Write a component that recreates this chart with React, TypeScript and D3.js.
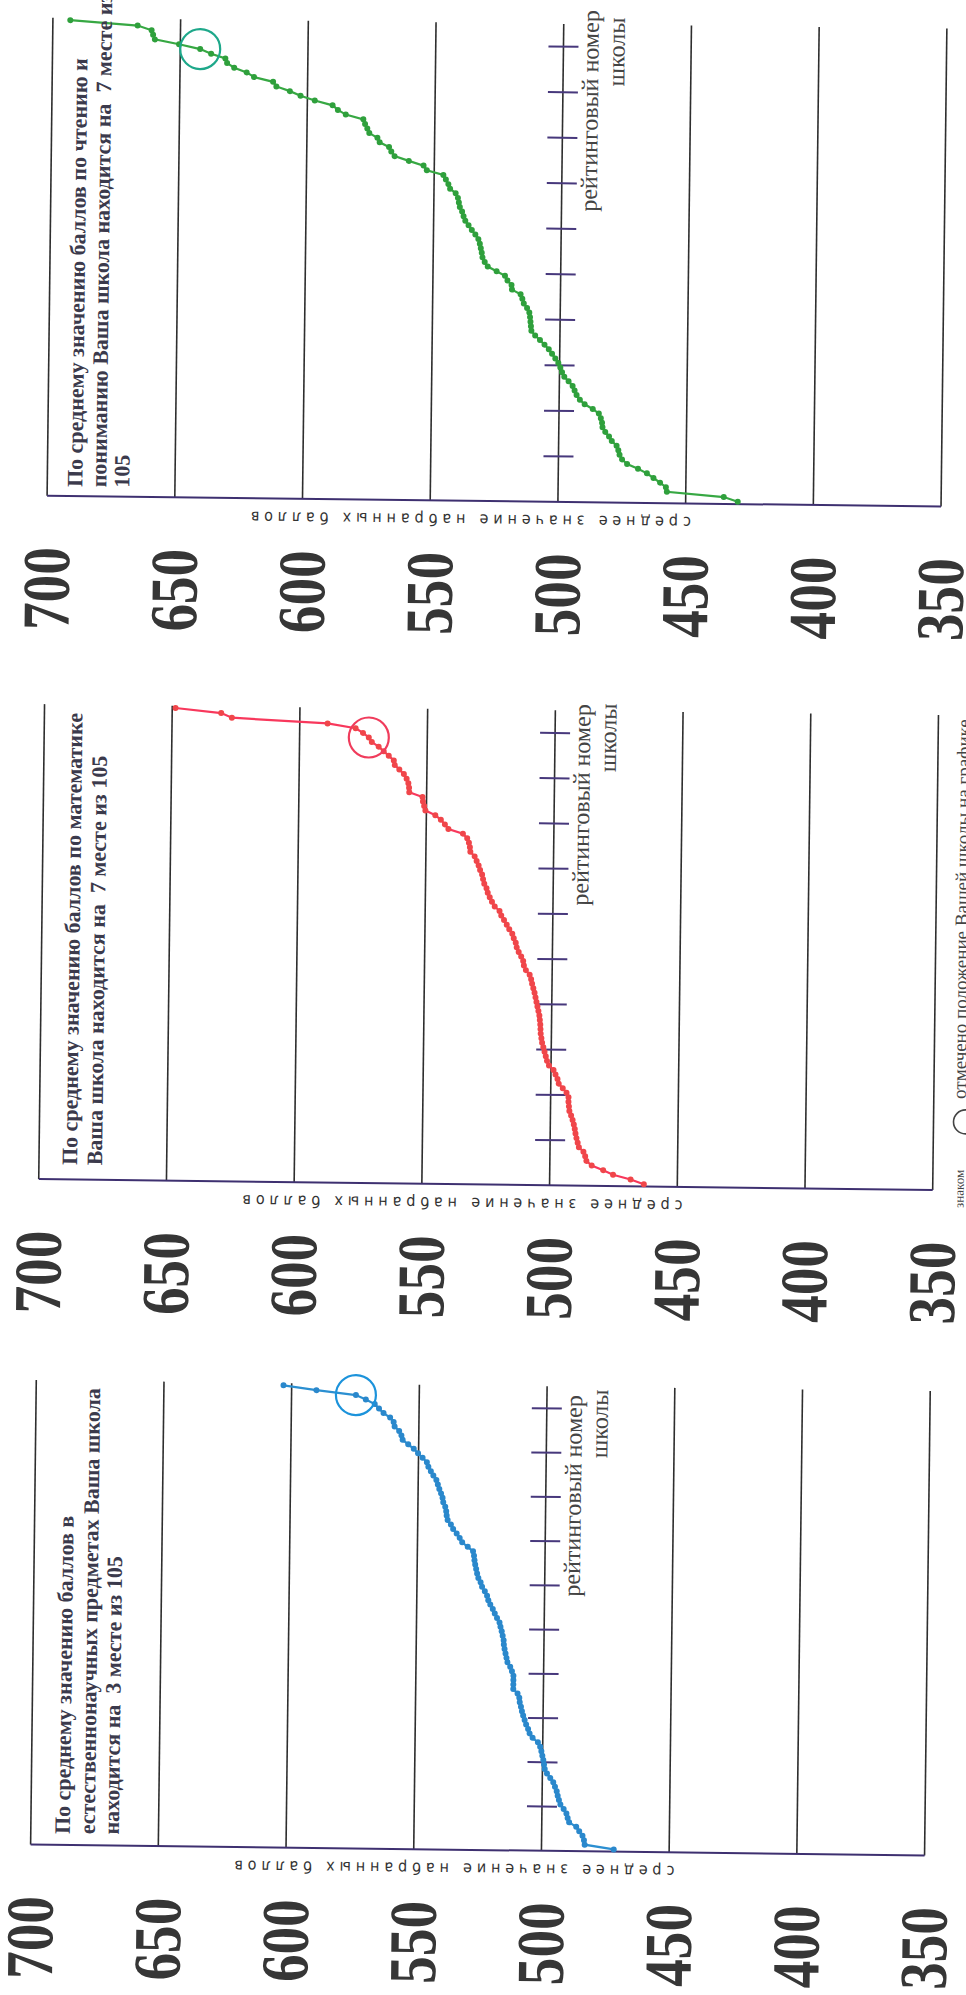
import * as d3 from 'd3';

// ranks 1..105 (schools), value axis 700..350
const RANKS = d3.range(1, 106);
const VALUE_TICKS = [700, 650, 600, 550, 500, 450, 400, 350];
const RANK_TICKS = [5.5, 15.5, 25.5, 35.5, 45.5, 55.5, 65.5, 75.5, 85.5, 95.5];

const readingScores = [
  693.2, 666.8, 661.3, 660.7, 660.0, 650.5, 642.2, 637.9, 632.3, 631.6,
  628.8, 623.9, 621.0, 613.5, 612.2, 606.9, 602.7, 597.1, 590.1, 588.0,
  584.9, 578.0, 577.3, 576.4, 575.6, 572.4, 571.5, 567.8, 566.9, 565.6,
  560.0, 554.2, 552.9, 546.4, 545.4, 544.4, 543.7, 541.5, 540.6, 540.2,
  539.8, 538.9, 538.3, 537.6, 536.3, 535.0, 533.6, 532.4, 531.8, 531.4,
  531.0, 530.7, 529.8, 528.6, 525.1, 521.8, 520.8, 519.2, 519.0, 515.6,
  514.9, 514.3, 513.0, 512.1, 511.8, 511.6, 511.4, 511.2, 509.7, 507.8,
  506.0, 504.3, 503.0, 501.7, 500.5, 499.7, 499.0, 498.1, 496.4, 494.8,
  494.0, 493.2, 491.9, 490.0, 486.8, 484.4, 483.6, 483.1, 482.9, 481.8,
  480.3, 479.2, 477.3, 476.6, 476.1, 475.1, 473.1, 468.8, 465.3, 462.7,
  460.1, 457.8, 457.4, 435.1, 429.6,
];

const mathScores = [
  648.7, 630.8, 626.6, 589.1, 578.1, 575.2, 572.9, 571.7, 569.0, 567.0,
  565.0, 563.0, 562.6, 560.8, 559.0, 557.9, 557.2, 556.9, 556.8, 551.6,
  551.4, 550.9, 550.4, 546.5, 544.3, 542.7, 541.3, 535.6, 533.9, 533.2,
  532.8, 532.6, 530.9, 530.1, 529.3, 528.7, 527.9, 527.5, 527.0, 526.1,
  525.6, 524.8, 523.9, 522.8, 520.9, 520.2, 519.1, 518.0, 517.0, 515.8,
  515.2, 514.4, 514.0, 513.2, 512.2, 511.4, 511.1, 510.3, 508.8, 508.2,
  507.8, 507.3, 506.8, 506.4, 506.0, 505.6, 505.2, 504.8, 504.6, 504.4,
  504.3, 504.2, 503.9, 503.6, 503.1, 502.6, 502.1, 501.6, 500.8, 499.0,
  498.2, 497.4, 496.9, 495.3, 493.8, 493.0, 493.0, 492.8, 492.6, 491.9,
  491.3, 490.8, 490.4, 490.1, 489.7, 489.2, 488.7, 486.9, 486.2, 485.7,
  483.6, 479.1, 475.2, 468.3, 463.1,
];

const scienceScores = [
  603.2, 590.3, 574.8, 570.9, 567.4, 565.7, 563.9, 561.3, 559.9, 559.5,
  557.7, 556.8, 556.3, 554.1, 551.9, 550.2, 548.4, 546.7, 546.1, 545.1,
  544.1, 542.9, 542.3, 541.7, 541.0, 540.4, 540.1, 539.3, 538.9, 538.7,
  538.3, 537.0, 536.1, 534.7, 533.5, 532.5, 530.3, 528.2, 527.8, 527.6,
  527.3, 526.9, 526.5, 526.0, 525.1, 524.5, 523.4, 522.5, 522.0, 521.2,
  520.2, 519.4, 518.5, 517.5, 517.1, 516.6, 516.2, 515.8, 515.7, 515.4,
  515.0, 514.6, 514.2, 513.1, 512.4, 511.8, 511.8, 511.8, 511.8, 510.1,
  509.4, 509.2, 508.7, 508.3, 507.8, 507.2, 506.6, 505.8, 505.2, 504.0,
  501.9, 501.0, 500.5, 500.1, 499.7, 499.4, 499.1, 498.2, 496.9, 495.7,
  495.0, 494.3, 493.9, 493.4, 492.8, 491.5, 490.4, 489.9, 489.3, 486.5,
  485.3, 484.0, 483.4, 483.1, 471.7,
];

const readingTitle = [
  'По среднему значению баллов по чтению и',
  'пониманию Ваша школа находится на  7 месте из',
  '105',
];
const mathTitle = [
  'По среднему значению баллов по математике',
  'Ваша школа находится на  7 месте из 105',
];
const scienceTitle = [
  'По среднему значению баллов в',
  'естественнонаучных предметах Ваша школа',
  'находится на  3 месте из 105',
];

const AXIS_TITLE = 'среднее значение набранных баллов';
const RANK_LABEL = ['рейтинговый номер', 'школы'];

const SERIF = "'Liberation Serif', 'Times New Roman', serif";
const INK = '#363636';

const x = d3.scaleLinear().domain([700, 350]).range([41, 935]);

interface PanelProps {
  scores: number[];
  myRank: number;
  top: number;
  base: number;
  line: string;
  dot: string;
  ring: string;
  title: string[];
  titleX: number[];
  titleY: number;
  rankEnd: [number, number];
}

function Panel(p: PanelProps) {
  const y = d3.scaleLinear().domain([0.5, 105.5]).range([p.top, p.base]);
  const path = d3
    .line<number>()
    .x((d) => x(d))
    .y((_, i) => y(RANKS[i]))(p.scores);
  const me = p.scores[p.myRank - 1];

  return (
    <g>
      {VALUE_TICKS.map((v) => (
        <line key={v} x1={x(v)} x2={x(v)} y1={p.top} y2={p.base} stroke="#2e2e2e" strokeWidth={1.6} />
      ))}
      <line x1={x(700)} x2={x(350)} y1={p.base} y2={p.base} stroke="#3e3070" strokeWidth={2} />
      {RANK_TICKS.map((r) => (
        <line key={r} x1={x(500) - 15} x2={x(500) + 15} y1={y(r)} y2={y(r)} stroke="#47387c" strokeWidth={2} />
      ))}

      <path d={path ?? ''} fill="none" stroke={p.line} strokeWidth={2.2} />
      {p.scores.map((d, i) => (
        <circle key={i} cx={x(d)} cy={y(RANKS[i])} r={3} fill={p.dot} />
      ))}
      <circle cx={x(me)} cy={y(p.myRank)} r={20} fill="none" stroke={p.ring} strokeWidth={2.2} />

      {p.title.map((t, i) => (
        <text
          key={i}
          transform={`translate(${p.titleX[i]},${p.titleY}) rotate(-90)`}
          fontFamily={SERIF}
          fontWeight="bold"
          fontSize={22}
          fill="#3b3a4c"
          style={{ whiteSpace: 'pre' }}
        >
          {t}
        </text>
      ))}

      {RANK_LABEL.map((t, i) => (
        <text
          key={t}
          transform={`translate(${i === 0 ? 579 : 605},${p.rankEnd[i]}) rotate(-90)`}
          textAnchor="end"
          dominantBaseline="central"
          fontFamily={SERIF}
          fontSize={24}
          fill="#444"
        >
          {t}
        </text>
      ))}

      <text
        transform={`translate(465,${p.base + 19}) rotate(180)`}
        textAnchor="middle"
        dominantBaseline="central"
        fontFamily="'DejaVu Sans Condensed', 'DejaVu Sans', sans-serif"
        fontSize={16}
        textLength={440}
        lengthAdjust="spacing"
        fill="#333"
      >
        {AXIS_TITLE}
      </text>

      {VALUE_TICKS.map((v) => (
        <text
          key={v}
          transform={`translate(${x(v)},${p.base + 93}) rotate(-90) scale(0.92,1.12)`}
          textAnchor="middle"
          dominantBaseline="central"
          fontFamily={SERIF}
          fontWeight="bold"
          fontSize={60}
          fill={INK}
        >
          {v}
        </text>
      ))}
    </g>
  );
}

export default function App() {
  return (
    <svg
      width={966}
      height={1995}
      viewBox="0 0 966 1995"
      style={{ position: 'absolute', left: 0, top: 0, background: '#fff' }}
    >
      <rect width={966} height={1995} fill="#fff" />
      <g transform="rotate(0.7 483 997)">
        <Panel
          scores={readingScores}
          myRank={7}
          top={23}
          base={501}
          line="#37a843"
          dot="#2fa03c"
          ring="#1ea88a"
          title={readingTitle}
          titleX={[76, 100, 123]}
          titleY={492}
          rankEnd={[9, 16]}
        />
        <Panel
          scores={mathScores}
          myRank={7}
          top={709.5}
          base={1184.5}
          line="#f8385c"
          dot="#f0464a"
          ring="#f03c5c"
          title={mathTitle}
          titleX={[79, 104]}
          titleY={1170}
          rankEnd={[703, 702]}
        />
        <Panel
          scores={scienceScores}
          myRank={3}
          top={1385.5}
          base={1850}
          line="#2b8fd1"
          dot="#2a88cc"
          ring="#1c93db"
          title={scienceTitle}
          titleX={[80, 105, 129]}
          titleY={1839}
          rankEnd={[1394, 1388]}
        />

        <text
          transform="translate(966,1202) rotate(-90)"
          fontFamily={SERIF}
          fontSize={13}
          fill="#444"
        >
          знаком
        </text>
        <circle cx={967} cy={1116} r={12} fill="none" stroke="#444" strokeWidth={1.6} />
        <text
          transform="translate(967,1093) rotate(-90)"
          fontFamily={SERIF}
          fontSize={19}
          fill="#444"
        >
          отмечено положение Вашей школы на графике
        </text>
      </g>
    </svg>
  );
}
